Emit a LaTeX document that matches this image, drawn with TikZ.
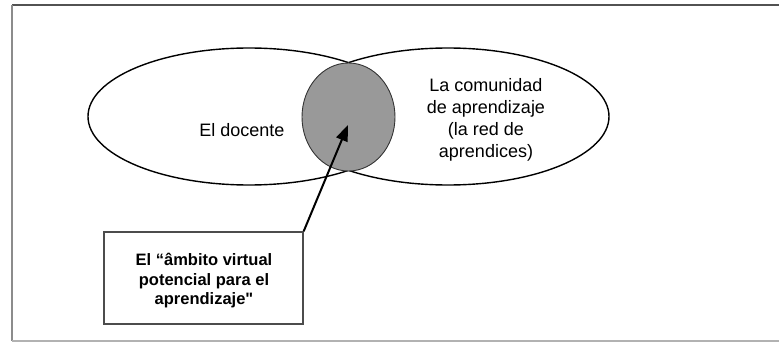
\documentclass[tikz,border=0pt]{standalone}
\usepackage{fontspec}
\setmainfont{Liberation Sans}[Ligatures=TeXOff]
\usetikzlibrary{shapes.geometric,arrows.meta}
\begin{document}
\begin{tikzpicture}[x=1pt,y=-1pt,
  ovalshape/.style={draw=black,line width=1.4pt,ellipse,inner sep=0pt,minimum width=322pt,minimum height=137pt},
  overlap/.style={draw=black!80,line width=0.9pt,fill=black!40,ellipse,inner sep=0pt,minimum width=93pt,minimum height=108pt},
  lbl/.style={font=\fontsize{18}{22}\selectfont,align=center,inner sep=0pt},
  notebox/.style={draw=black!70,line width=1.3pt,rectangle,minimum width=199pt,minimum height=92pt,inner sep=0pt},
  boxtext/.style={inner sep=0pt,align=center,font=\fontsize{16.5}{19.5}\selectfont\bfseries},
  pointer/.style={line width=2pt,-{Triangle[length=16pt,width=12pt]}}]
\useasboundingbox (0,0) rectangle (779,342);
% frame
\coordinate (ftl) at (12,5);
\coordinate (ftr) at (779,5);
\coordinate (fbl) at (12,341);
\coordinate (fbr) at (779,341);
\draw[line width=2pt,draw=black!68] (ftl) -- (ftr);
\draw[line width=2.5pt,draw=black!45] (ftl) -- (fbl);
\draw[line width=1.5pt,draw=black!30] (fbl) -- (fbr);
% ellipses (outer contour only)
\begin{scope}
  \clip (0,0) rectangle (348.5,342);
  \node[ovalshape] (left) at (249,116.5) {};
\end{scope}
\begin{scope}
  \clip (348.5,0) rectangle (779,342);
  \node[ovalshape] (right) at (448,116.5) {};
\end{scope}
\node[overlap] (mid) at (348.5,117) {};
\node[lbl,anchor=base] (ltext) at (242,137) {El docente};
\node[lbl] (rtext) at (486,120) {La comunidad\\de aprendizaje\\(la red de\\aprendices)};
% box
\node[notebox] (box) at (203.5,278) {};
\node[boxtext] (boxtxt) at (204,281) {El “âmbito virtual\\potencial para el\\aprendizaje"};
\coordinate (tip) at (348,125);
\draw[pointer] (box.north east) -- (tip);
\end{tikzpicture}
\end{document}
